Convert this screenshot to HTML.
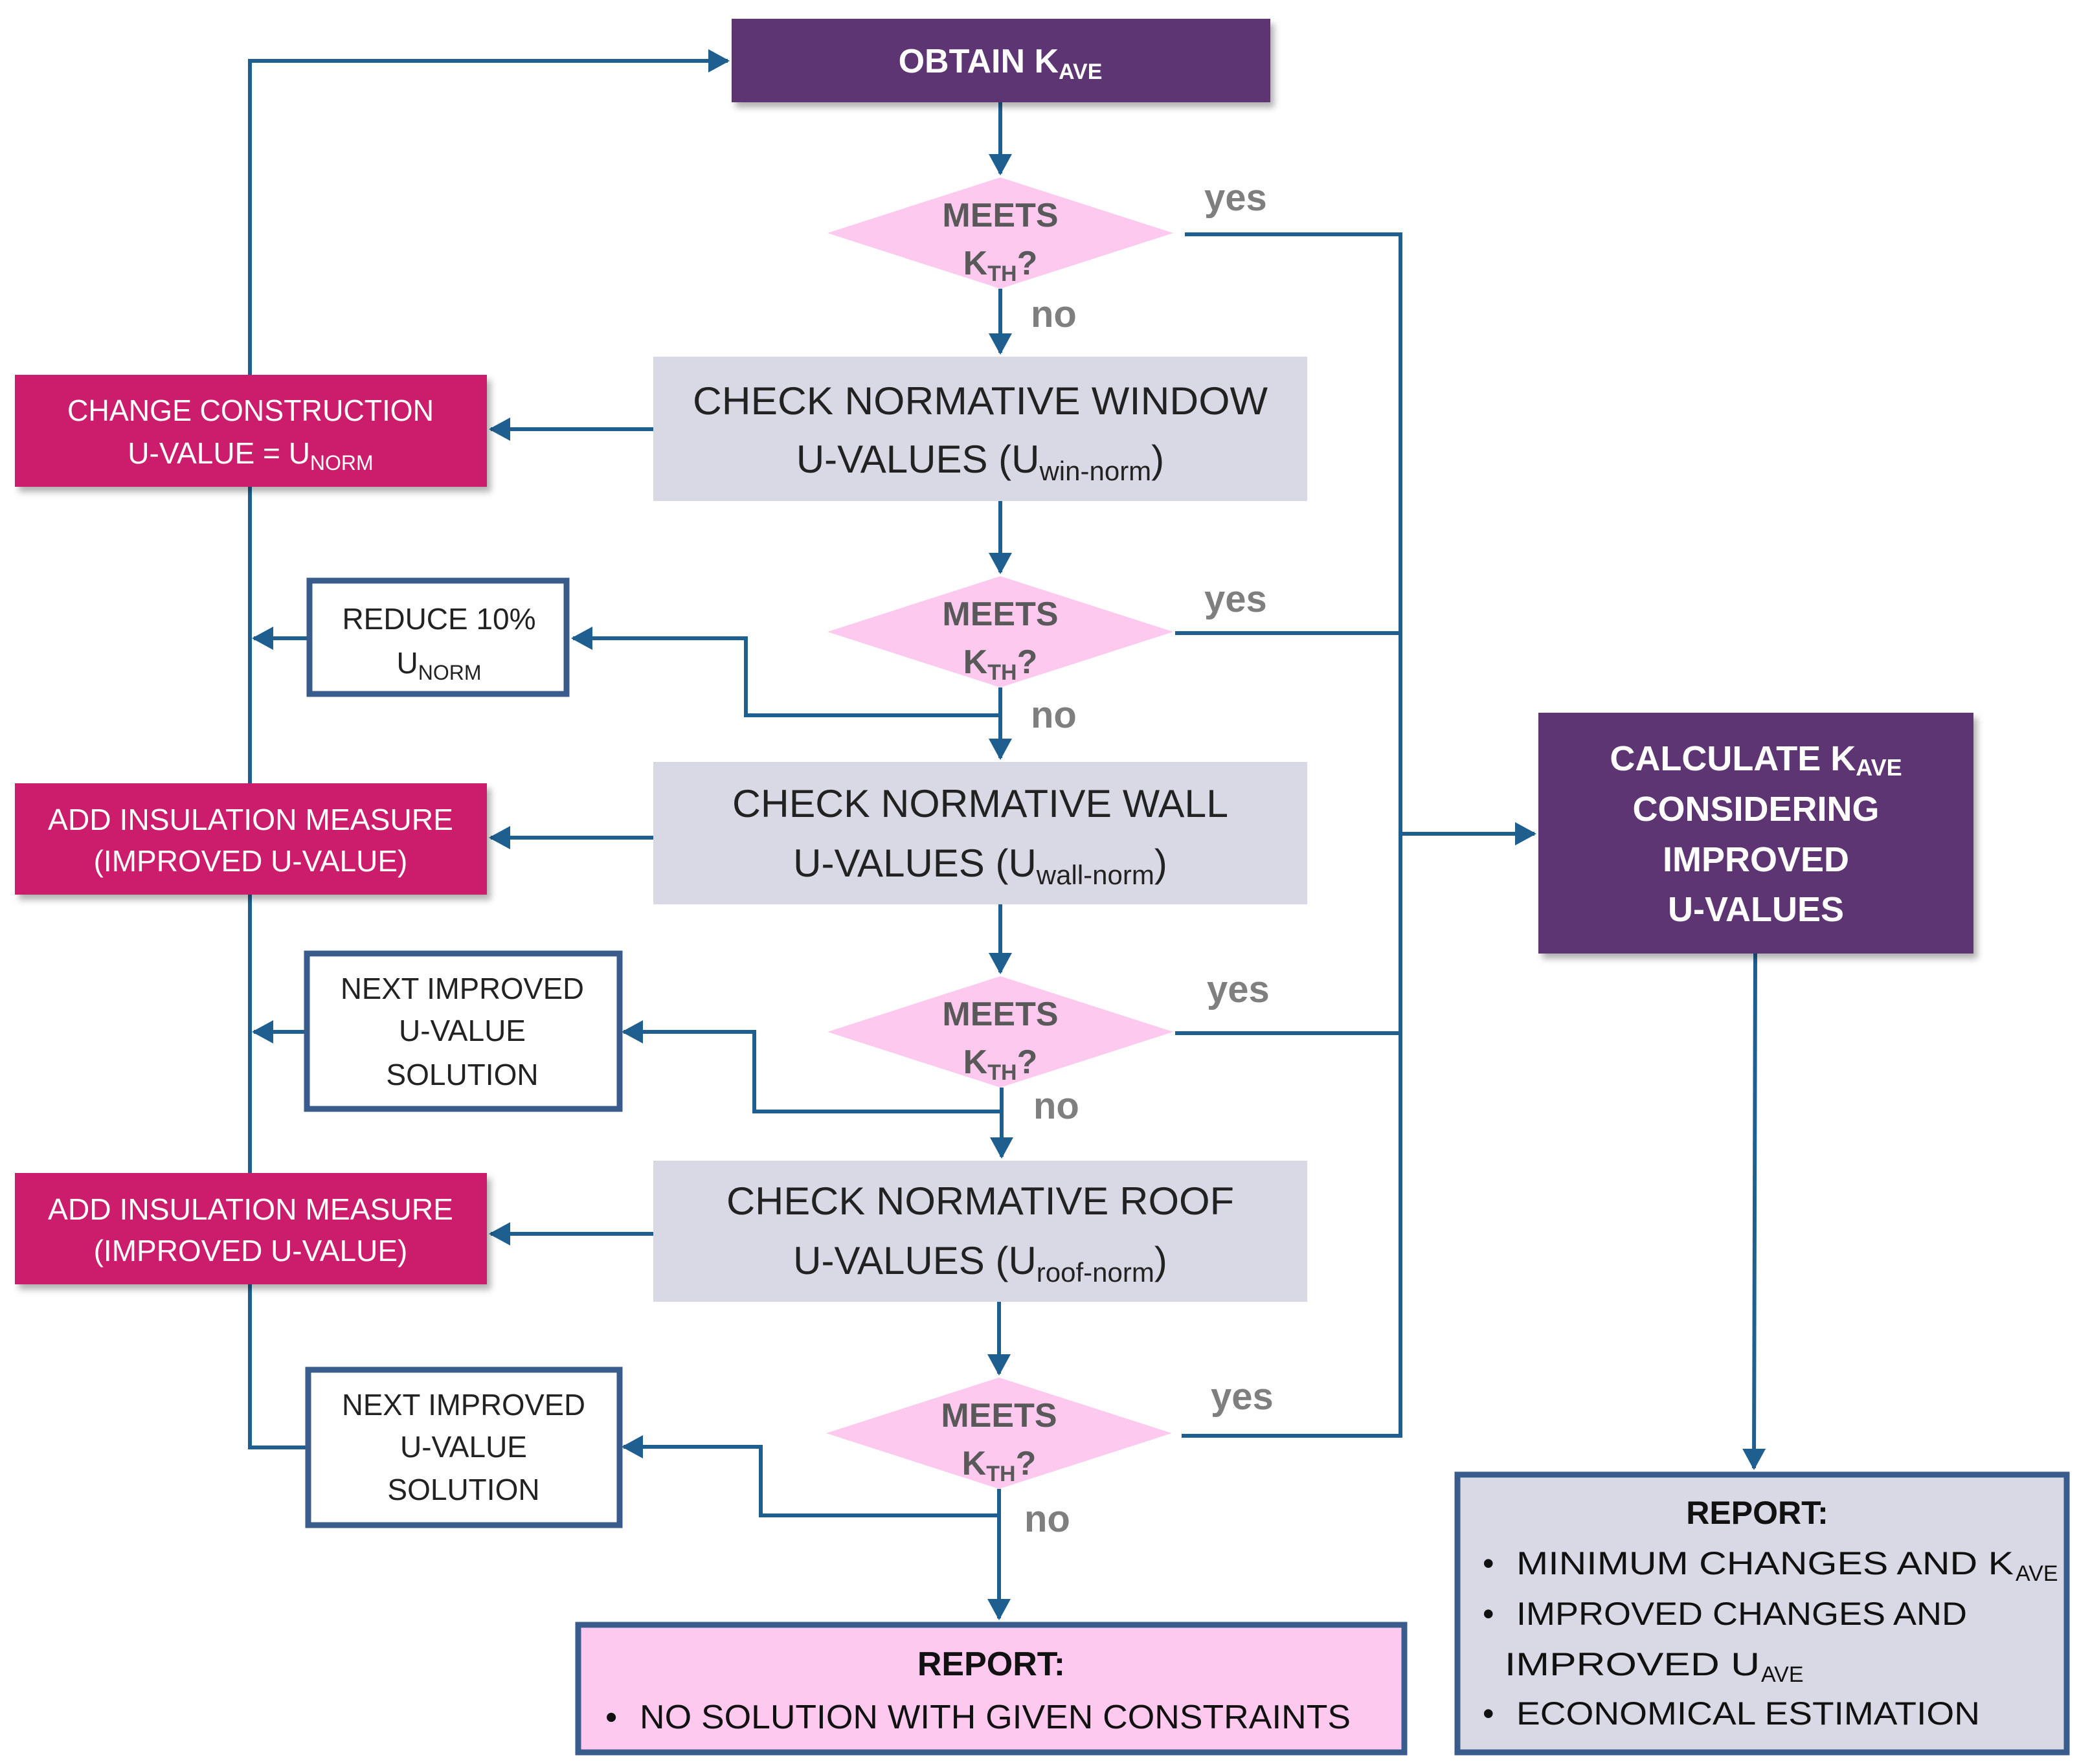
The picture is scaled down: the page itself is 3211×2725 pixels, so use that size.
<!DOCTYPE html>
<html><head><meta charset="utf-8"><style>
html,body{margin:0;padding:0;background:#fff}
svg{display:block}
text{font-family:"Liberation Sans",sans-serif}
</style></head><body>
<svg width="3211" height="2725" viewBox="0 0 3211 2725" xmlns="http://www.w3.org/2000/svg">
<defs>
<marker id="a" markerWidth="5.5" markerHeight="6" refX="5" refY="3" orient="auto" markerUnits="strokeWidth">
<path d="M0,0 L5.5,3 L0,6 z" fill="#1f5f8f"/></marker>
<filter id="sh" x="-5%" y="-5%" width="115%" height="125%"><feDropShadow dx="6" dy="8" stdDeviation="5" flood-color="#000" flood-opacity="0.3"/></filter>
</defs>
<g stroke="#1f5f8f" stroke-width="6" fill="none">
<polyline points="472,2236 386,2236 386,94 1124,94" marker-end="url(#a)"/>
<line x1="1545" y1="158" x2="1545" y2="268" marker-end="url(#a)"/>
<line x1="1545" y1="446" x2="1545" y2="545" marker-end="url(#a)"/>
<line x1="1545" y1="774" x2="1545" y2="884" marker-end="url(#a)"/>
<line x1="1545" y1="1062" x2="1545" y2="1171" marker-end="url(#a)"/>
<line x1="1545" y1="1397" x2="1545" y2="1502" marker-end="url(#a)"/>
<line x1="1547" y1="1680" x2="1547" y2="1787" marker-end="url(#a)"/>
<line x1="1543" y1="2011" x2="1543" y2="2122" marker-end="url(#a)"/>
<line x1="1543" y1="2300" x2="1543" y2="2500" marker-end="url(#a)"/>
<line x1="1009" y1="663" x2="758" y2="663" marker-end="url(#a)"/>
<line x1="1009" y1="1294" x2="758" y2="1294" marker-end="url(#a)"/>
<line x1="1009" y1="1906" x2="758" y2="1906" marker-end="url(#a)"/>
<polyline points="1545,1105 1152,1105 1152,986 885,986" marker-end="url(#a)"/>
<polyline points="1545,1717 1165,1717 1165,1594 963,1594" marker-end="url(#a)"/>
<polyline points="1543,2341 1175,2341 1175,2235 963,2235" marker-end="url(#a)"/>
<line x1="474" y1="986" x2="392" y2="986" marker-end="url(#a)"/>
<line x1="470" y1="1594" x2="392" y2="1594" marker-end="url(#a)"/>
<polyline points="1830,362 2163,362 2163,2218 1825,2218"/>
<line x1="1815" y1="978" x2="2163" y2="978"/>
<line x1="1815" y1="1596" x2="2163" y2="1596"/>
<line x1="2163" y1="1288" x2="2370" y2="1288" marker-end="url(#a)"/>
<line x1="2711" y1="1473" x2="2709" y2="2268" marker-end="url(#a)"/>
</g>
<rect x="1130" y="29" width="832" height="129" fill="#5b3672" filter="url(#sh)"/>
<rect x="1009" y="551" width="1010" height="223" fill="#d9d9e6"/>
<rect x="1009" y="1177" width="1010" height="220" fill="#d9d9e6"/>
<rect x="1009" y="1793" width="1010" height="218" fill="#d9d9e6"/>
<rect x="23" y="579" width="729" height="173" fill="#cc1a6c" filter="url(#sh)"/>
<rect x="23" y="1210" width="729" height="172" fill="#cc1a6c" filter="url(#sh)"/>
<rect x="23" y="1812" width="729" height="172" fill="#cc1a6c" filter="url(#sh)"/>
<rect x="2376" y="1101" width="672" height="372" fill="#5b3672" filter="url(#sh)"/>
<g stroke="#3a5c8c" stroke-width="9">
<rect x="478" y="897" width="397" height="175" fill="#fff"/>
<rect x="474" y="1473" width="483" height="240" fill="#fff"/>
<rect x="476" y="2116" width="481" height="240" fill="#fff"/>
<rect x="893" y="2510" width="1276" height="197" fill="#fdc9ef"/>
<rect x="2251" y="2278" width="941" height="429" fill="#d9d9e6"/>
</g>
<g fill="#fdc9ef">
<polygon points="1545,274 1812,360 1545,446 1278,360"/>
<polygon points="1545,890 1812,976 1545,1062 1278,976"/>
<polygon points="1545,1508 1812,1594 1545,1680 1278,1594"/>
<polygon points="1543,2128 1810,2214 1543,2300 1276,2214"/>
</g>
<g font-size="52" font-weight="bold" fill="#595959" text-anchor="middle">
<text x="1545" y="350">MEETS</text><text x="1545" y="424">K<tspan font-size="34" dy="10">TH</tspan><tspan dy="-10">?</tspan></text>
<text x="1545" y="966">MEETS</text><text x="1545" y="1040">K<tspan font-size="34" dy="10">TH</tspan><tspan dy="-10">?</tspan></text>
<text x="1545" y="1584">MEETS</text><text x="1545" y="1658">K<tspan font-size="34" dy="10">TH</tspan><tspan dy="-10">?</tspan></text>
<text x="1543" y="2204">MEETS</text><text x="1543" y="2278">K<tspan font-size="34" dy="10">TH</tspan><tspan dy="-10">?</tspan></text>
</g>
<g font-size="58" font-weight="bold" fill="#7f7f7f">
<text x="1860" y="325">yes</text><text x="1860" y="945">yes</text><text x="1864" y="1548">yes</text><text x="1870" y="2177">yes</text>
<text x="1592" y="505">no</text><text x="1592" y="1124">no</text><text x="1596" y="1728">no</text><text x="1582" y="2366">no</text>
</g>
<text x="1545" y="112" font-size="52" font-weight="bold" fill="#fff" text-anchor="middle">OBTAIN K<tspan font-size="34" dy="10">AVE</tspan></text>
<g font-size="60" fill="#222" text-anchor="middle">
<text x="1514" y="640" textLength="888" lengthAdjust="spacingAndGlyphs">CHECK NORMATIVE WINDOW</text>
<text x="1514" y="730">U-VALUES (U<tspan font-size="42" dy="12">win-norm</tspan><tspan dy="-12">)</tspan></text>
<text x="1514" y="1262" textLength="766" lengthAdjust="spacingAndGlyphs">CHECK NORMATIVE WALL</text>
<text x="1514" y="1354">U-VALUES (U<tspan font-size="42" dy="12">wall-norm</tspan><tspan dy="-12">)</tspan></text>
<text x="1514" y="1876" textLength="784" lengthAdjust="spacingAndGlyphs">CHECK NORMATIVE  ROOF</text>
<text x="1514" y="1968">U-VALUES (U<tspan font-size="42" dy="12">roof-norm</tspan><tspan dy="-12">)</tspan></text>
</g>
<g font-size="46" fill="#fff" text-anchor="middle">
<text x="387" y="650" textLength="566" lengthAdjust="spacingAndGlyphs">CHANGE CONSTRUCTION</text>
<text x="387" y="716">U-VALUE = U<tspan font-size="32" dy="10">NORM</tspan></text>
<text x="387" y="1282" textLength="626" lengthAdjust="spacingAndGlyphs">ADD INSULATION MEASURE</text>
<text x="387" y="1346">(IMPROVED  U-VALUE)</text>
<text x="387" y="1884" textLength="626" lengthAdjust="spacingAndGlyphs">ADD INSULATION MEASURE</text>
<text x="387" y="1948">(IMPROVED  U-VALUE)</text>
</g>
<g font-size="46" fill="#222" text-anchor="middle">
<text x="678" y="972">REDUCE 10%</text>
<text x="678" y="1040">U<tspan font-size="32" dy="10">NORM</tspan></text>
<text x="714" y="1543" textLength="376" lengthAdjust="spacingAndGlyphs">NEXT IMPROVED</text>
<text x="714" y="1608">U-VALUE</text><text x="714" y="1676">SOLUTION</text>
<text x="716" y="2186" textLength="376" lengthAdjust="spacingAndGlyphs">NEXT IMPROVED</text>
<text x="716" y="2251">U-VALUE</text><text x="716" y="2317">SOLUTION</text>
</g>
<g font-size="52" fill="#111">
<text x="1531" y="2588" font-weight="bold" text-anchor="middle">REPORT:</text>
<text x="935" y="2670">•</text>
<text x="988" y="2670" textLength="1098" lengthAdjust="spacingAndGlyphs">NO SOLUTION WITH GIVEN CONSTRAINTS</text>
</g>
<g font-size="54" font-weight="bold" fill="#fff" text-anchor="middle">
<text x="2712" y="1190">CALCULATE K<tspan font-size="36" dy="8">AVE</tspan></text>
<text x="2712" y="1268">CONSIDERING</text>
<text x="2712" y="1346">IMPROVED</text>
<text x="2712" y="1423">U-VALUES</text>
</g>
<g font-size="50" fill="#111">
<text x="2714" y="2354" font-weight="bold" text-anchor="middle">REPORT:</text>
<text x="2290" y="2432">•</text>
<text x="2342" y="2432" textLength="768" lengthAdjust="spacingAndGlyphs">MINIMUM CHANGES AND K</text><text x="3113" y="2442" font-size="34">AVE</text>
<text x="2290" y="2510">•</text>
<text x="2342" y="2510" textLength="696" lengthAdjust="spacingAndGlyphs">IMPROVED CHANGES AND</text>
<text x="2324" y="2588" textLength="394" lengthAdjust="spacingAndGlyphs">IMPROVED U</text><text x="2720" y="2598" font-size="34">AVE</text>
<text x="2290" y="2664">•</text>
<text x="2342" y="2664" textLength="716" lengthAdjust="spacingAndGlyphs">ECONOMICAL ESTIMATION</text>
</g>
</svg>
</body></html>
